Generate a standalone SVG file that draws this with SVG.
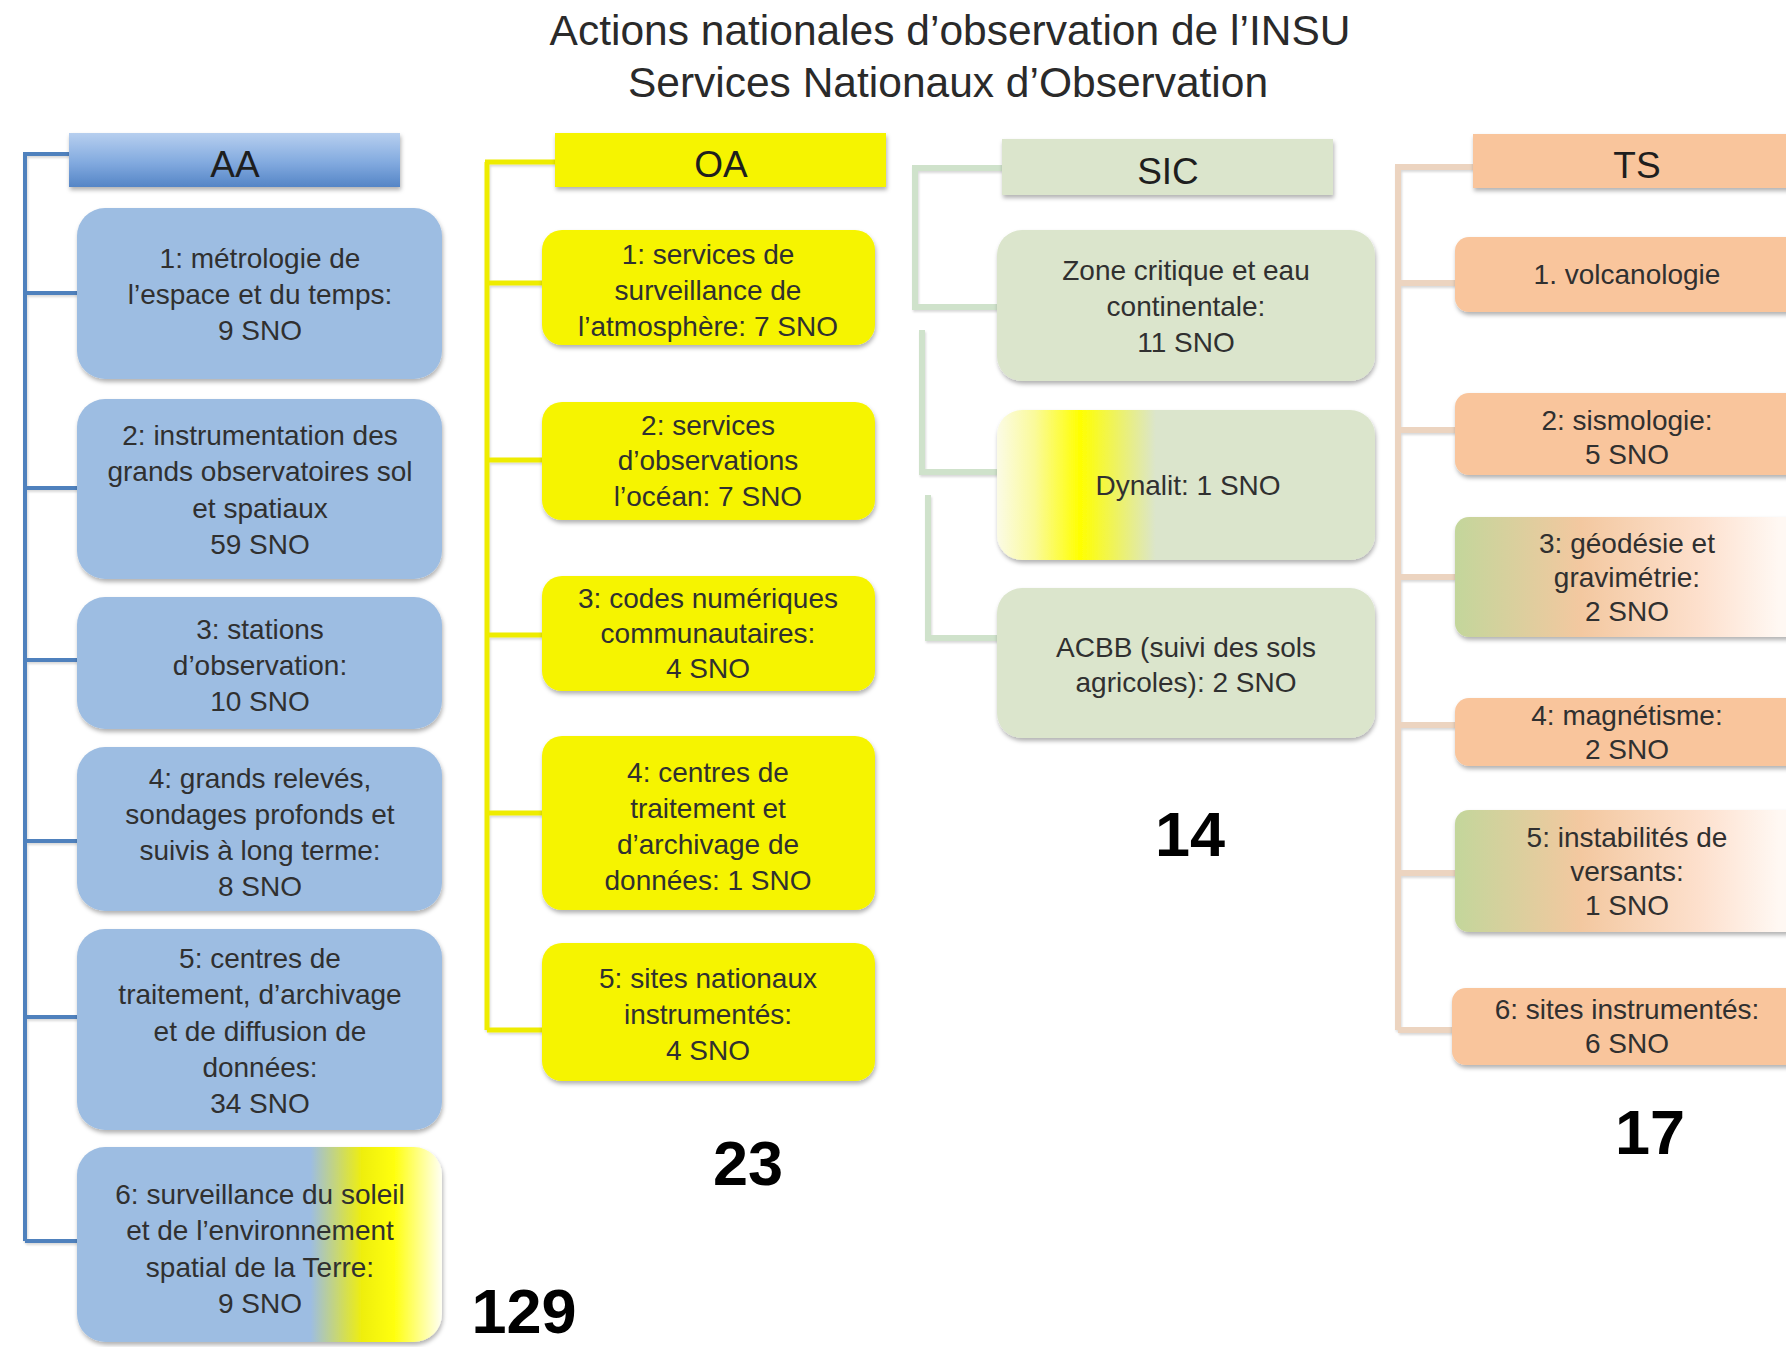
<svg xmlns="http://www.w3.org/2000/svg" width="1786" height="1347" viewBox="0 0 1786 1347">
<style>
.t{font-family:"Liberation Sans",Arial,sans-serif;font-size:28px;fill:#303030;text-anchor:middle}
.h{font-family:"Liberation Sans",Arial,sans-serif;font-size:37px;fill:#1e1e1e;text-anchor:middle}
.title{font-family:"Liberation Sans",Arial,sans-serif;font-size:42.5px;fill:#2a2a2a;text-anchor:middle}
.big{font-family:"Liberation Sans",Arial,sans-serif;font-size:63px;font-weight:bold;fill:#000;text-anchor:middle}
.aa{fill:#9dbde2}
.oa{fill:#f6f400}
.sic{fill:#dbe5cc}
.ts{fill:#f9c59c}
.ln{fill:none;stroke-linecap:butt;stroke-linejoin:miter}
</style>
<defs>
<filter id="sh" x="-10%" y="-10%" width="120%" height="130%">
<feDropShadow dx="1" dy="3" stdDeviation="2" flood-color="#000" flood-opacity="0.3"/>
</filter>
<filter id="lsh" x="-10%" y="-10%" width="120%" height="120%">
<feDropShadow dx="1" dy="2" stdDeviation="1" flood-color="#000" flood-opacity="0.15"/>
</filter>
<linearGradient id="aaHead" x1="0" y1="0" x2="0" y2="1">
<stop offset="0" stop-color="#b7cfef"/>
<stop offset="0.55" stop-color="#82aadf"/>
<stop offset="1" stop-color="#5585c6"/>
</linearGradient>
<linearGradient id="aa6" x1="0" y1="0" x2="1" y2="0">
<stop offset="0" stop-color="#9dbde2"/>
<stop offset="0.64" stop-color="#9dbde2"/>
<stop offset="0.78" stop-color="#eeee10"/>
<stop offset="0.87" stop-color="#ffff10"/>
<stop offset="1" stop-color="#fffff4"/>
</linearGradient>
<linearGradient id="dyn" x1="0" y1="0" x2="1" y2="0">
<stop offset="0" stop-color="#fbfbe6"/>
<stop offset="0.1" stop-color="#fafa9a"/>
<stop offset="0.22" stop-color="#ffff00"/>
<stop offset="0.42" stop-color="#dbe5cc"/>
<stop offset="1" stop-color="#dbe5cc"/>
</linearGradient>
<linearGradient id="tsmix" x1="0" y1="0" x2="1" y2="0">
<stop offset="0" stop-color="#c3d69b"/>
<stop offset="0.35" stop-color="#f3c8a0"/>
<stop offset="0.68" stop-color="#fde0cd"/>
<stop offset="0.9" stop-color="#fff8f3"/>
</linearGradient>
</defs>
<rect width="1786" height="1347" fill="#ffffff"/>

<g id="title">
<text class="title" x="950" y="45">Actions nationales d’observation de l’INSU</text>
<text class="title" x="948" y="97">Services Nationaux d’Observation</text>
</g>

<g id="connectors" filter="url(#lsh)">
<path class="ln" stroke="#4f81bd" stroke-width="4" d="M25 154 V1241 M23 154 H69 M25 293 H77 M25 488 H77 M25 660 H77 M25 841 H77 M25 1017 H77 M25 1241 H77"/>
<path class="ln" stroke="#eeec00" stroke-width="5" d="M487 162 V1030 M485 162 H555 M487 283 H542 M487 460 H542 M487 635 H542 M487 813 H542 M487 1030 H542"/>
<path class="ln" stroke="#cfe2cb" stroke-width="6" d="M1002 168 H915 V307 H997 M922 330 V472 H997 M928 495 V638 H1008"/>
<path class="ln" stroke="#ecd4c0" stroke-width="6" d="M1398 167 V1030 M1395 167 H1473 M1398 283 H1455 M1398 430 H1455 M1398 577 H1455 M1398 725 H1455 M1398 873 H1455 M1398 1030 H1452"/>
</g>

<g id="AA-header"><rect x="69" y="133" width="331" height="54" fill="url(#aaHead)" filter="url(#sh)"/><text class="h" x="235" y="177">AA</text></g>
<g id="AA-1"><rect class="aa" x="77" y="208" width="365" height="171" rx="28" filter="url(#sh)"/><text class="t" x="260" y="268">1: métrologie de</text><text class="t" x="260" y="304">l’espace et du temps:</text><text class="t" x="260" y="340">9 SNO</text></g>
<g id="AA-2"><rect class="aa" x="77" y="399" width="365" height="180" rx="28" filter="url(#sh)"/><text class="t" x="260" y="445">2: instrumentation des</text><text class="t" x="260" y="481">grands observatoires sol</text><text class="t" x="260" y="518">et spatiaux</text><text class="t" x="260" y="554">59 SNO</text></g>
<g id="AA-3"><rect class="aa" x="77" y="597" width="365" height="132" rx="28" filter="url(#sh)"/><text class="t" x="260" y="639">3: stations</text><text class="t" x="260" y="675">d’observation:</text><text class="t" x="260" y="711">10 SNO</text></g>
<g id="AA-4"><rect class="aa" x="77" y="747" width="365" height="164" rx="28" filter="url(#sh)"/><text class="t" x="260" y="788">4: grands relevés,</text><text class="t" x="260" y="824">sondages profonds et</text><text class="t" x="260" y="860">suivis à long terme:</text><text class="t" x="260" y="896">8 SNO</text></g>
<g id="AA-5"><rect class="aa" x="77" y="929" width="365" height="201" rx="28" filter="url(#sh)"/><text class="t" x="260" y="968">5: centres de</text><text class="t" x="260" y="1004">traitement, d’archivage</text><text class="t" x="260" y="1041">et de diffusion de</text><text class="t" x="260" y="1077">données:</text><text class="t" x="260" y="1113">34 SNO</text></g>
<g id="AA-6"><rect x="77" y="1147" width="365" height="195" rx="28" fill="url(#aa6)" filter="url(#sh)"/><text class="t" x="260" y="1204">6: surveillance du soleil</text><text class="t" x="260" y="1240">et de l’environnement</text><text class="t" x="260" y="1277">spatial de la Terre:</text><text class="t" x="260" y="1313">9 SNO</text></g>
<g id="AA-total"><text class="big" x="524" y="1333">129</text></g>

<g id="OA-header"><rect class="oa" x="555" y="133" width="331" height="54" filter="url(#sh)"/><text class="h" x="721" y="177">OA</text></g>
<g id="OA-1"><rect class="oa" x="542" y="230" width="333" height="115" rx="20" filter="url(#sh)"/><text class="t" x="708" y="264">1: services de</text><text class="t" x="708" y="300">surveillance de</text><text class="t" x="708" y="336">l’atmosphère: 7 SNO</text></g>
<g id="OA-2"><rect class="oa" x="542" y="402" width="333" height="118" rx="20" filter="url(#sh)"/><text class="t" x="708" y="435">2: services</text><text class="t" x="708" y="470">d’observations</text><text class="t" x="708" y="506">l’océan: 7 SNO</text></g>
<g id="OA-3"><rect class="oa" x="542" y="576" width="333" height="115" rx="20" filter="url(#sh)"/><text class="t" x="708" y="608">3: codes numériques</text><text class="t" x="708" y="643">communautaires:</text><text class="t" x="708" y="678">4  SNO</text></g>
<g id="OA-4"><rect class="oa" x="542" y="736" width="333" height="174" rx="20" filter="url(#sh)"/><text class="t" x="708" y="782">4: centres de</text><text class="t" x="708" y="818">traitement et</text><text class="t" x="708" y="854">d’archivage de</text><text class="t" x="708" y="890">données: 1 SNO</text></g>
<g id="OA-5"><rect class="oa" x="542" y="943" width="333" height="138" rx="20" filter="url(#sh)"/><text class="t" x="708" y="988">5: sites nationaux</text><text class="t" x="708" y="1024">instrumentés:</text><text class="t" x="708" y="1060">4 SNO</text></g>
<g id="OA-total"><text class="big" x="748" y="1185">23</text></g>

<g id="SIC-header"><rect class="sic" x="1002" y="139" width="331" height="56" filter="url(#sh)"/><text class="h" x="1168" y="184">SIC</text></g>
<g id="SIC-1"><rect class="sic" x="997" y="230" width="378" height="151" rx="25" filter="url(#sh)"/><text class="t" x="1186" y="280">Zone critique et eau</text><text class="t" x="1186" y="316">continentale:</text><text class="t" x="1186" y="352">11 SNO</text></g>
<g id="SIC-2"><rect x="997" y="410" width="378" height="150" rx="25" fill="url(#dyn)" filter="url(#sh)"/><text class="t" x="1188" y="495">Dynalit: 1 SNO</text></g>
<g id="SIC-3"><rect class="sic" x="997" y="588" width="378" height="150" rx="25" filter="url(#sh)"/><text class="t" x="1186" y="657">ACBB (suivi des sols</text><text class="t" x="1186" y="692">agricoles): 2 SNO</text></g>
<g id="SIC-total"><text class="big" x="1190" y="856">14</text></g>

<g id="TS-header"><rect class="ts" x="1473" y="134" width="340" height="54" filter="url(#sh)"/><text class="h" x="1637" y="178">TS</text></g>
<g id="TS-1"><rect class="ts" x="1455" y="237" width="360" height="75" rx="14" filter="url(#sh)"/><text class="t" x="1627" y="284">1. volcanologie</text></g>
<g id="TS-2"><rect class="ts" x="1455" y="393" width="360" height="82" rx="14" filter="url(#sh)"/><text class="t" x="1627" y="430">2: sismologie:</text><text class="t" x="1627" y="464">5 SNO</text></g>
<g id="TS-3"><rect x="1455" y="517" width="360" height="120" rx="14" fill="url(#tsmix)" filter="url(#sh)"/><text class="t" x="1627" y="553">3: géodésie et</text><text class="t" x="1627" y="587">gravimétrie:</text><text class="t" x="1627" y="621">2 SNO</text></g>
<g id="TS-4"><rect class="ts" x="1455" y="698" width="360" height="68" rx="14" filter="url(#sh)"/><text class="t" x="1627" y="725">4: magnétisme:</text><text class="t" x="1627" y="759">2 SNO</text></g>
<g id="TS-5"><rect x="1455" y="810" width="360" height="122" rx="14" fill="url(#tsmix)" filter="url(#sh)"/><text class="t" x="1627" y="847">5: instabilités de</text><text class="t" x="1627" y="881">versants:</text><text class="t" x="1627" y="915">1  SNO</text></g>
<g id="TS-6"><rect class="ts" x="1452" y="988" width="363" height="77" rx="14" filter="url(#sh)"/><text class="t" x="1627" y="1019">6: sites instrumentés:</text><text class="t" x="1627" y="1053">6 SNO</text></g>
<g id="TS-total"><text class="big" x="1650" y="1154">17</text></g>
</svg>
